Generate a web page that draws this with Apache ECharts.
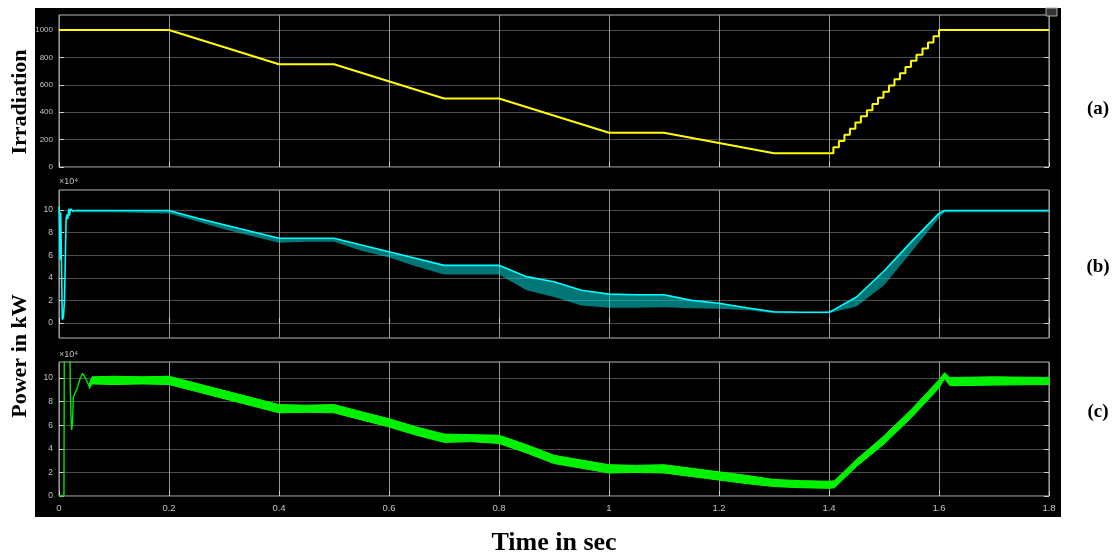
<!DOCTYPE html>
<html><head><meta charset="utf-8">
<script src="https://cdn.jsdelivr.net/npm/echarts@6/dist/echarts.min.js"></script>
<style>html,body{margin:0;padding:0;background:#fff}#c{width:1118px;height:558px}</style>
</head><body><div id="c"></div>
<script>
// ---------- data ----------
const irrTicks = [0, 200, 400, 600, 800, 1000];
const powTicks = [0, 2, 4, 6, 8, 10];

// (a) irradiation: ramps
const irrRampT = [0, 0.2, 0.4, 0.5, 0.7, 0.8, 1.0, 1.1, 1.3];
const irrRampV = [1000, 1000, 750, 750, 500, 500, 250, 250, 100];
// (a) irradiation: staircase recovery
const irrStairT = [1.3, 1.408, 1.418, 1.428, 1.438, 1.448, 1.458, 1.469, 1.479, 1.489, 1.499, 1.509, 1.519, 1.529, 1.539, 1.549, 1.559, 1.570, 1.580, 1.590, 1.600, 1.8];
const irrStairV = [100, 145, 190, 235, 280, 325, 370, 415, 460, 505, 550, 595, 640, 685, 730, 775, 820, 865, 910, 955, 1000, 1000];

// (b) power (x1e4) start transient
const pvStartT = [0, 0.001, 0.002, 0.003, 0.004, 0.006, 0.008, 0.010, 0.012, 0.013, 0.015, 0.016, 0.018, 0.019, 0.021, 0.025];
const pvStartV = [10.3, 9.5, 5.6, 9.8, 7.0, 0.3, 0.5, 2.0, 7.0, 9.3, 9.6, 9.2, 10.1, 9.5, 10.1, 9.9];
// (b) power main trace (top) and lower envelope of its ripple
const pvT   = [0.03, 0.1, 0.2, 0.25, 0.3, 0.35, 0.4, 0.45, 0.5, 0.55, 0.6, 0.65, 0.7, 0.75, 0.8, 0.85, 0.9, 0.95, 1.0, 1.05, 1.1, 1.15, 1.2, 1.25, 1.3, 1.35, 1.4, 1.41, 1.45, 1.5, 1.55, 1.6, 1.61, 1.7, 1.8];
const pvTop = [9.95, 9.95, 9.95, 9.3, 8.7, 8.1, 7.5, 7.5, 7.5, 6.9, 6.3, 5.7, 5.1, 5.1, 5.1, 4.1, 3.65, 2.9, 2.55, 2.5, 2.5, 2.0, 1.75, 1.35, 1.0, 0.95, 0.95, 1.2, 2.3, 4.6, 7.2, 9.7, 9.95, 9.95, 9.95];
const pvLow = [9.8, 9.8, 9.7, 9.0, 8.3, 7.7, 7.1, 7.2, 7.2, 6.4, 5.8, 5.0, 4.3, 4.3, 4.3, 2.9, 2.3, 1.55, 1.35, 1.35, 1.4, 1.3, 1.25, 1.15, 0.85, 0.85, 0.85, 1.0, 1.45, 3.35, 6.3, 9.3, 9.8, 9.8, 9.8];

// (c) power (x1e4) start transient
const gnStartT = [0, 0.009, 0.0097, 0.0195, 0.0206, 0.022, 0.023, 0.0245, 0.026, 0.028, 0.033, 0.038, 0.043, 0.048, 0.055];
const gnStartV = [0, 0, 14, 14, 9.0, 6.5, 5.6, 6.2, 8.3, 8.6, 9.1, 9.9, 10.4, 10.0, 9.3];
// (c) noisy trace: upper and lower edges of the band
const gnT   = [0.055, 0.06, 0.1, 0.15, 0.2, 0.25, 0.3, 0.35, 0.4, 0.45, 0.5, 0.55, 0.6, 0.65, 0.7, 0.75, 0.8, 0.85, 0.9, 0.95, 1.0, 1.05, 1.1, 1.15, 1.2, 1.25, 1.3, 1.35, 1.4, 1.41, 1.45, 1.5, 1.55, 1.6, 1.61, 1.62, 1.7, 1.8];
const gnTop = [9.5, 10.1, 10.15, 10.1, 10.15, 9.55, 8.95, 8.35, 7.75, 7.7, 7.75, 7.15, 6.55, 5.85, 5.25, 5.2, 5.15, 4.35, 3.45, 3.05, 2.65, 2.6, 2.65, 2.35, 2.05, 1.75, 1.4, 1.3, 1.25, 1.3, 3.1, 5.1, 7.35, 9.85, 10.45, 10.05, 10.1, 10.05];
const gnLow = [9.1, 9.5, 9.45, 9.5, 9.45, 8.85, 8.25, 7.65, 7.05, 7.1, 7.05, 6.45, 5.85, 5.15, 4.55, 4.6, 4.45, 3.65, 2.75, 2.35, 1.95, 2.0, 1.95, 1.65, 1.35, 1.05, 0.8, 0.7, 0.65, 0.7, 2.5, 4.4, 6.65, 9.15, 9.95, 9.35, 9.4, 9.45];

// ---------- chart ----------
const pairs = (t, v) => t.map((x, i) => [x, v[i]]);

function bandSeries(idx, T, top, low, style, z) {
  return {
    type: 'custom', coordinateSystem: 'cartesian2d', xAxisIndex: idx, yAxisIndex: idx, z: z,
    data: [[T[0], top[0]]], silent: true,
    renderItem: (params, api) => {
      const pts = [];
      for (let i = 0; i < T.length; i++) pts.push(api.coord([T[i], top[i]]));
      for (let i = T.length - 1; i >= 0; i--) pts.push(api.coord([T[i], low[i]]));
      return {type: 'polygon', shape: {points: pts}, style: style};
    }
  };
}

const chart = echarts.init(document.getElementById('c'), null, {renderer: 'canvas'});
const lab = {color: '#c4c4c4', fontFamily: 'Liberation Sans, Arial, sans-serif'};
const grids = [
  {left: 59, top: 15, width: 990, height: 152},
  {left: 59, top: 190, width: 990, height: 148},
  {left: 59, top: 362, width: 990, height: 134}
].map(g => Object.assign(g, {show: true, backgroundColor: '#000', borderColor: '#b8b8b8', borderWidth: 1}));

const xAxes = [0, 1, 2].map(i => ({
  gridIndex: i, type: 'value', min: 0, max: 1.8, interval: 0.2,
  axisLine: {show: false},
  axisTick: {show: true, inside: true, length: 5, lineStyle: {color: '#d0d0d0'}},
  splitLine: {show: true, lineStyle: {color: '#959595', width: 1}},
  axisLabel: Object.assign({show: i === 2, margin: 7, fontSize: 9.5}, lab)
}));
const yDef = [
  {min: 0, max: 1110, ticks: irrTicks, margin: 6, size: 8},
  {min: -1.33, max: 11.77, ticks: powTicks, margin: 6, size: 8.5},
  {min: 0, max: 11.36, ticks: powTicks, margin: 6, size: 8.5}
];
const yAxes = yDef.map((d, i) => ({
  gridIndex: i, type: 'value', min: d.min, max: d.max,
  axisLine: {show: false},
  axisTick: {show: true, inside: true, length: 5, customValues: d.ticks, lineStyle: {color: '#d0d0d0'}},
  splitLine: {show: true, lineStyle: {color: '#4c4c4c', width: 1}},
  axisLabel: Object.assign({customValues: d.ticks, margin: d.margin, fontSize: d.size, formatter: v => String(v)}, lab)
})).concat(yDef.map((d, i) => ({
  // mirrored inner tick marks on the right frame
  gridIndex: i, type: 'value', position: 'right', min: d.min, max: d.max,
  axisLine: {show: false}, splitLine: {show: false}, axisLabel: {show: false},
  axisTick: {show: true, inside: true, length: 5, customValues: d.ticks, lineStyle: {color: '#d0d0d0'}}
})));

const series = [
  {type: 'line', xAxisIndex: 0, yAxisIndex: 0, data: pairs(irrRampT, irrRampV), showSymbol: false,
   lineStyle: {color: '#ffff00', width: 2}, z: 5},
  {type: 'line', xAxisIndex: 0, yAxisIndex: 0, data: pairs(irrStairT, irrStairV), step: 'end', showSymbol: false,
   lineStyle: {color: '#ffff00', width: 2}, z: 5},
  // (b) ripple band + main trace
  bandSeries(1, pvT, pvTop, pvLow, {fill: 'rgba(0,215,215,0.55)'}, 3),
  {type: 'line', xAxisIndex: 1, yAxisIndex: 1, data: pairs(pvStartT, pvStartV).concat(pairs(pvT, pvTop)), showSymbol: false,
   lineStyle: {color: '#00ffff', width: 1.6}, z: 5},
  // (c) start transient + noisy band
  {type: 'line', xAxisIndex: 2, yAxisIndex: 2, data: pairs(gnStartT, gnStartV), showSymbol: false,
   lineStyle: {color: '#00e600', width: 1.4}, z: 5},
  bandSeries(2, gnT, gnTop, gnLow, {fill: '#00f000', stroke: '#00ff00', lineWidth: 1}, 4)
];

const serif = 'bold 22px "Liberation Serif", "Times New Roman", serif';
const graphic = [
  {type: 'rect', z: -10, silent: true, shape: {x: 35, y: 8, width: 1026, height: 509}, style: {fill: '#000'}},
  {type: 'rect', z: 10, shape: {x: 1046, y: 8, width: 11, height: 8}, style: {fill: '#333', stroke: '#aaa', lineWidth: 1}},
  {type: 'text', z: 10, x: 59, y: 186, style: {text: '×10⁴', fill: '#bdbdbd', font: '9px "Liberation Sans", Arial, sans-serif', verticalAlign: 'bottom'}},
  {type: 'text', z: 10, x: 59, y: 359, style: {text: '×10⁴', fill: '#bdbdbd', font: '9px "Liberation Sans", Arial, sans-serif', verticalAlign: 'bottom'}},
  {type: 'text', x: 20, y: 102, rotation: Math.PI / 2, style: {text: 'Irradiation', font: serif, fill: '#000', align: 'center', verticalAlign: 'middle'}},
  {type: 'text', x: 20, y: 356, rotation: Math.PI / 2, style: {text: 'Power in kW', font: serif, fill: '#000', align: 'center', verticalAlign: 'middle'}},
  {type: 'text', x: 1098, y: 109, style: {text: '(a)', font: 'bold 19px "Liberation Serif", serif', fill: '#000', align: 'center', verticalAlign: 'middle'}},
  {type: 'text', x: 1098, y: 267, style: {text: '(b)', font: 'bold 19px "Liberation Serif", serif', fill: '#000', align: 'center', verticalAlign: 'middle'}},
  {type: 'text', x: 1098, y: 412, style: {text: '(c)', font: 'bold 19px "Liberation Serif", serif', fill: '#000', align: 'center', verticalAlign: 'middle'}},
  {type: 'text', x: 554, y: 543, style: {text: 'Time in sec', font: 'bold 26px "Liberation Serif", "Times New Roman", serif', fill: '#000', align: 'center', verticalAlign: 'middle'}}
];

chart.setOption({
  backgroundColor: '#fff',
  animation: false,
  grid: grids,
  xAxis: xAxes,
  yAxis: yAxes,
  series: series,
  graphic: graphic
});
</script></body></html>
